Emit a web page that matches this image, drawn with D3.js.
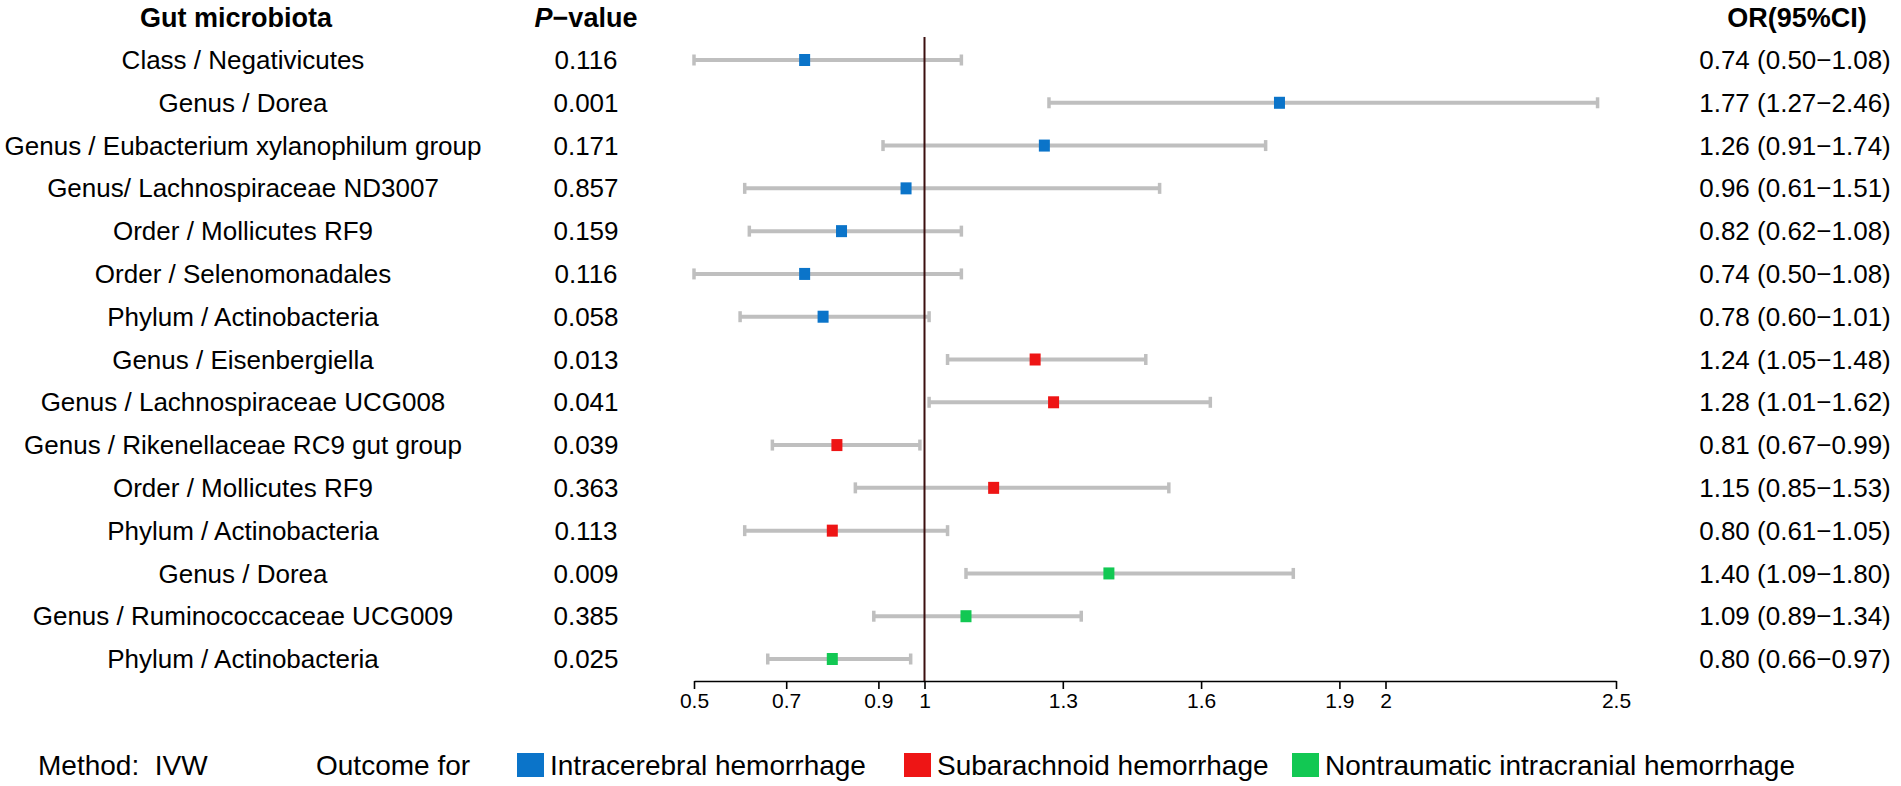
<!DOCTYPE html>
<html>
<head>
<meta charset="utf-8">
<script src="https://cdn.jsdelivr.net/npm/d3@7"></script>
<style>
  body { margin: 0; background: #fff; }
  text { font-family: "Liberation Sans", Arial, sans-serif; fill: #000; }
</style>
</head>
<body>
<div id="chart"></div>
<script>
// rows, top to bottom
const taxa = [
    "Class / Negativicutes",
    "Genus / Dorea",
    "Genus / Eubacterium xylanophilum group",
    "Genus/ Lachnospiraceae ND3007",
    "Order / Mollicutes RF9",
    "Order / Selenomonadales",
    "Phylum / Actinobacteria",
    "Genus / Eisenbergiella",
    "Genus / Lachnospiraceae UCG008",
    "Genus / Rikenellaceae RC9 gut group",
    "Order / Mollicutes RF9",
    "Phylum / Actinobacteria",
    "Genus / Dorea",
    "Genus / Ruminococcaceae UCG009",
    "Phylum / Actinobacteria"
];
const pValues = [0.116, 0.001, 0.171, 0.857, 0.159, 0.116, 0.058, 0.013, 0.041, 0.039, 0.363, 0.113, 0.009, 0.385, 0.025];
const oddsRatios = [0.74, 1.77, 1.26, 0.96, 0.82, 0.74, 0.78, 1.24, 1.28, 0.81, 1.15, 0.80, 1.40, 1.09, 0.80];
const ciLower = [0.50, 1.27, 0.91, 0.61, 0.62, 0.50, 0.60, 1.05, 1.01, 0.67, 0.85, 0.61, 1.09, 0.89, 0.66];
const ciUpper = [1.08, 2.46, 1.74, 1.51, 1.08, 1.08, 1.01, 1.48, 1.62, 0.99, 1.53, 1.05, 1.80, 1.34, 0.97];
const outcomeOf = ["ICH", "ICH", "ICH", "ICH", "ICH", "ICH", "ICH", "SAH", "SAH", "SAH", "SAH", "SAH", "NICH", "NICH", "NICH"];

const outcomeKeys = ["ICH", "SAH", "NICH"];
const outcomeNames = ["Intracerebral hemorrhage", "Subarachnoid hemorrhage", "Nontraumatic intracranial hemorrhage"];
const tickValues = [0.5, 0.7, 0.9, 1, 1.3, 1.6, 1.9, 2, 2.5];

const rows = taxa.map((t, i) => ({
    idx: i, taxon: t, p: pValues[i], or: oddsRatios[i],
    lo: ciLower[i], hi: ciUpper[i], outcome: outcomeOf[i]
}));

const width = 1901, height = 786;

const svg = d3.select("#chart").append("svg")
    .attr("width", width)
    .attr("height", height);

// scales
const x = d3.scaleLinear().domain([0.5, 2.5]).range([694, 1616]);
const y = d3.scalePoint().domain(rows.map(d => d.idx)).range([60, 659]);
const color = d3.scaleOrdinal().domain(outcomeKeys).range(["#0b74c9", "#ee1515", "#12c853"]);

const labelX = 243, pX = 586, orX = 1795;
const fmt2 = d3.format(".2f");

// headers
svg.append("text")
    .attr("x", 236).attr("y", 27)
    .attr("text-anchor", "middle")
    .style("font-size", "27px").style("font-weight", "bold")
    .text("Gut microbiota");

const ph = svg.append("text")
    .attr("x", pX).attr("y", 27)
    .attr("text-anchor", "middle")
    .style("font-size", "27px").style("font-weight", "bold");
ph.append("tspan").style("font-style", "italic").text("P");
ph.append("tspan").text("\u2212value");

svg.append("text")
    .attr("x", orX + 2).attr("y", 27)
    .attr("text-anchor", "middle")
    .style("font-size", "27px").style("font-weight", "bold")
    .text("OR(95%CI)");

// row texts
const rowG = svg.selectAll(".row")
    .data(rows)
    .enter().append("g")
    .attr("class", "row")
    .attr("transform", d => "translate(0," + y(d.idx) + ")");

rowG.append("text")
    .attr("x", labelX).attr("dy", "0.35em")
    .attr("text-anchor", "middle")
    .style("font-size", "26px")
    .text(d => d.taxon);

rowG.append("text")
    .attr("x", pX).attr("dy", "0.35em")
    .attr("text-anchor", "middle")
    .style("font-size", "26px")
    .text(d => d3.format(".3f")(d.p));

rowG.append("text")
    .attr("x", orX).attr("dy", "0.35em")
    .attr("text-anchor", "middle")
    .style("font-size", "26px")
    .text(d => fmt2(d.or) + " (" + fmt2(d.lo) + "\u2212" + fmt2(d.hi) + ")");

// reference line at OR = 1
svg.append("line")
    .attr("x1", x(1)).attr("x2", x(1))
    .attr("y1", 37).attr("y2", 681)
    .attr("stroke", "#3b0f0f")
    .attr("stroke-width", 2);

// CI bars
rowG.append("line")
    .attr("x1", d => x(d.lo)).attr("x2", d => x(d.hi))
    .attr("stroke", "#bfbfbf")
    .attr("stroke-width", 4);

rowG.selectAll(".cap")
    .data(d => [d.lo, d.hi])
    .enter().append("line")
    .attr("class", "cap")
    .attr("x1", d => x(d)).attr("x2", d => x(d))
    .attr("y1", -5.5).attr("y2", 5.5)
    .attr("stroke", "#bfbfbf")
    .attr("stroke-width", 3.5);

// point estimates
rowG.append("rect")
    .attr("x", d => x(d.or) - 5.5)
    .attr("y", -6)
    .attr("width", 11).attr("height", 12)
    .attr("fill", d => color(d.outcome));

// x axis
const xAxis = d3.axisBottom(x)
    .tickValues(tickValues)
    .tickFormat(d => String(d))
    .tickSize(8)
    .tickSizeOuter(0);

const axisG = svg.append("g")
    .attr("transform", "translate(0,681)")
    .call(xAxis);

axisG.select(".domain").attr("stroke", "#000").attr("stroke-width", 1.6);
axisG.selectAll(".tick line").attr("stroke", "#000").attr("stroke-width", 1.6);
axisG.selectAll(".tick text")
    .attr("font-family", null)
    .attr("y", 12)
    .style("font-size", "21px");

// legend
const legY = 765;
svg.append("text")
    .attr("x", 38).attr("y", legY).attr("dy", "0.35em")
    .style("font-size", "28px")
    .text("Method:\u00a0\u00a0IVW");

svg.append("text")
    .attr("x", 316).attr("y", legY).attr("dy", "0.35em")
    .style("font-size", "28px")
    .text("Outcome for");

const legX = [517, 904, 1292];
const legG = svg.selectAll(".leg")
    .data(outcomeKeys)
    .enter().append("g")
    .attr("class", "leg")
    .attr("transform", (d, i) => "translate(" + legX[i] + "," + legY + ")");

legG.append("rect")
    .attr("x", 0).attr("y", -12)
    .attr("width", 27).attr("height", 24)
    .attr("fill", d => color(d));

legG.append("text")
    .attr("x", 33).attr("dy", "0.35em")
    .style("font-size", "28px")
    .text((d, i) => outcomeNames[i]);
</script>
</body>
</html>
